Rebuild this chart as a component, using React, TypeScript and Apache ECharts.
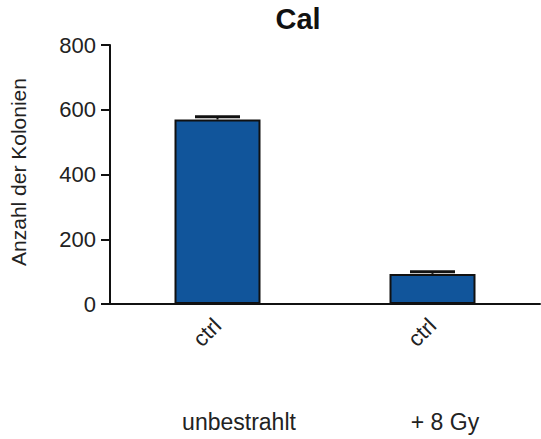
import React, { useEffect, useRef } from "react";
import * as echarts from "echarts";

const categories = ["ctrl", "ctrl"];
const groupLabels = ["unbestrahlt", "+ 8 Gy"];
const means = [570, 93];
const errors = [8, 7];
const yTicks = [0, 200, 400, 600, 800];

export default function App() {
  const ref = useRef<HTMLDivElement>(null);
  useEffect(() => {
    document.body.style.margin = "0";
    if (!ref.current) return;
    const chart = echarts.init(ref.current, undefined, { renderer: "svg" });
    const font = "'Liberation Sans', Arial, Helvetica, sans-serif";
    chart.setOption({
      animation: false,
      backgroundColor: "#ffffff",
      title: {
        text: "Cal",
        left: 298,
        top: 4,
        padding: 0,
        textAlign: "center",
        textStyle: { fontFamily: font, fontSize: 29, fontWeight: "bold", color: "#111" },
      },
      grid: { left: 110, right: 1, top: 45, bottom: 135 },
      xAxis: {
        type: "category",
        data: categories,
        axisLine: { lineStyle: { color: "#111", width: 2 } },
        axisTick: { alignWithLabel: true, length: 7, lineStyle: { color: "#111", width: 2 } },
        axisLabel: {
          rotate: 45,
          margin: 18,
          fontFamily: font,
          fontSize: 22,
          color: "#222",
        },
      },
      yAxis: {
        type: "value",
        min: yTicks[0],
        max: yTicks[yTicks.length - 1],
        interval: 200,
        splitLine: { show: false },
        axisLine: { show: true, lineStyle: { color: "#111", width: 2 } },
        axisTick: { show: true, length: 9, lineStyle: { color: "#111", width: 2 } },
        axisLabel: { margin: 14, fontFamily: font, fontSize: 22, color: "#222" },
      },
      graphic: [
        {
          type: "text",
          x: 18,
          y: 172,
          rotation: Math.PI / 2,
          style: {
            text: "Anzahl der Kolonien",
            fontFamily: font,
            fontSize: 21,
            fill: "#222",
            textAlign: "center",
            textVerticalAlign: "middle",
          },
        },
        {
          type: "text",
          x: 239,
          y: 422,
          style: {
            text: groupLabels[0],
            fontFamily: font,
            fontSize: 23,
            fill: "#222",
            textAlign: "center",
            textVerticalAlign: "middle",
          },
        },
        {
          type: "text",
          x: 445,
          y: 422,
          style: {
            text: groupLabels[1],
            fontFamily: font,
            fontSize: 23,
            fill: "#222",
            textAlign: "center",
            textVerticalAlign: "middle",
          },
        },
      ],
      series: [
        {
          type: "bar",
          data: means,
          barWidth: 86,
          itemStyle: { color: "#11559B", borderColor: "#111", borderWidth: 2 },
          z: 2,
        },
        {
          type: "custom",
          z: 3,
          data: means.map((m, i) => [i, m, errors[i]]),
          renderItem: (params: any, api: any) => {
            const i = api.value(0);
            const m = api.value(1);
            const e = api.value(2);
            const top = api.coord([i, m + e]);
            const base = api.coord([i, m]);
            const half = 22.5;
            return {
              type: "group",
              children: [
                {
                  type: "line",
                  shape: { x1: top[0], y1: base[1], x2: top[0], y2: top[1] },
                  style: { stroke: "#111", lineWidth: 2 },
                },
                {
                  type: "line",
                  shape: { x1: top[0] - half, y1: top[1], x2: top[0] + half, y2: top[1] },
                  style: { stroke: "#111", lineWidth: 3 },
                },
              ],
            };
          },
        },
      ],
    });
    return () => chart.dispose();
  }, []);
  return <div ref={ref} style={{ width: 541, height: 439 }} />;
}
